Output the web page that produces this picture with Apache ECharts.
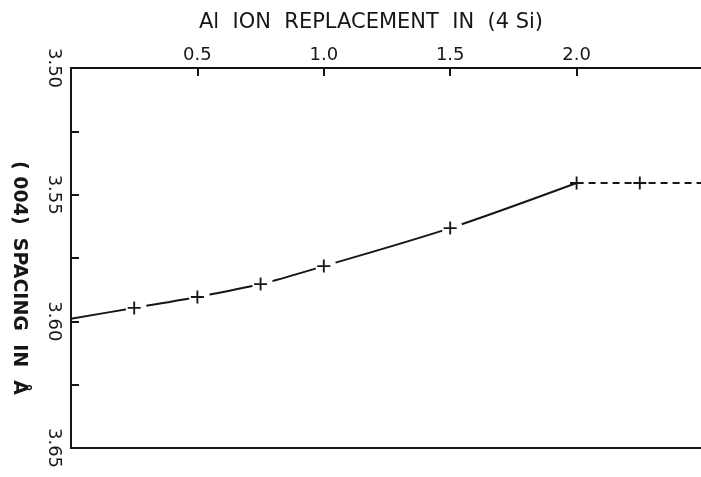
<!DOCTYPE html>
<html><head><meta charset="utf-8">
<script src="https://cdn.jsdelivr.net/npm/echarts@6/dist/echarts.min.js"></script>
<style>html,body{margin:0;padding:0;background:#fff}#c{width:701px;height:477px}</style>
</head><body><div id="c"></div>
<script>
// Data
var xSolid = [0, 0.25, 0.5, 0.75, 1.0, 1.5, 2.0];
var ySolid = [3.599, 3.5947, 3.5904, 3.5853, 3.5782, 3.5632, 3.5454];
var xDashed = [2.0, 2.25, 2.5];
var yDashed = [3.5454, 3.5454, 3.5454];
var xMarks = [0.25, 0.5, 0.75, 1.0, 1.5, 2.0, 2.25];
var yMarks = [3.5947, 3.5904, 3.5853, 3.5782, 3.5632, 3.5454, 3.5454];
var xTickLabels = ['0.5', '1.0', '1.5', '2.0'];
var yTickLabels = ['3.50', '3.55', '3.60', '3.65'];
var xTitle = 'Al  ION  REPLACEMENT  IN  (4 Si)';
var yTitle = '( 004)  SPACING  IN  Å';

var INK = '#161616';
var FONT = 'DejaVu Sans';
var plus = 'path://M6,0H8V6H14V8H8V14H6V8H0V6H6Z';

// solid curve: white gap discs around the marked points (not at the ends)
var solidData = xSolid.map(function (x, i) {
  var gap = x > 0.1 && x < 1.9;
  return { value: [x, ySolid[i]], symbol: gap ? 'circle' : 'none' };
});
var markData = xMarks.map(function (x, i) { return [x, yMarks[i]]; });
var dashedData = xDashed.map(function (x, i) { return [x, yDashed[i]]; });

var chart = echarts.init(document.getElementById('c'), null, { renderer: 'canvas' });
chart.setOption({
  animation: false,
  backgroundColor: '#fff',
  title: {
    text: xTitle, left: 366, top: 7, textAlign: 'center',
    textStyle: { fontFamily: FONT, fontSize: 21, fontWeight: 'normal', color: INK }
  },
  graphic: [{
    type: 'text', x: 19, y: 278, rotation: -Math.PI / 2, silent: true,
    style: { text: yTitle, font: 'bold 19px "DejaVu Sans"', fill: INK,
             textAlign: 'center', textVerticalAlign: 'middle' }
  }],
  grid: { left: 71, top: 68, width: 632, height: 380, show: true, borderColor: INK, borderWidth: 2,
          outerBoundsMode: 'none', containLabel: false },
  xAxis: {
    type: 'value', position: 'top', min: 0, max: 2.5, interval: 0.5,
    axisLine: { lineStyle: { color: INK, width: 2 } },
    axisTick: { inside: true, length: 8, lineStyle: { color: INK, width: 2 } },
    splitLine: { show: false },
    axisLabel: {
      margin: 4, color: INK, fontFamily: FONT, fontSize: 18,
      formatter: function (v) {
        var s = v.toFixed(1);
        return xTickLabels.indexOf(s) >= 0 ? s : '';
      }
    }
  },
  yAxis: {
    type: 'value', inverse: true, min: 3.5, max: 3.65, interval: 0.025,
    axisLine: { lineStyle: { color: INK, width: 2 } },
    axisTick: { inside: true, length: 8, lineStyle: { color: INK, width: 2 } },
    splitLine: { show: false },
    axisLabel: {
      rotate: -90, margin: 8, color: INK, fontFamily: FONT, fontSize: 18,
      formatter: function (v) {
        var s = v.toFixed(2);
        return (yTickLabels.indexOf(s) >= 0 && Math.abs(v * 20 - Math.round(v * 20)) < 1e-6) ? s : '';
      }
    }
  },
  series: [
    { type: 'line', data: solidData, smooth: 0.3, showSymbol: true, symbolSize: 21, symbolOffset: [2, 0],
      itemStyle: { color: '#ffffff', borderWidth: 0, opacity: 1 },
      lineStyle: { color: INK, width: 2 }, z: 2, silent: true },
    { type: 'line', data: dashedData, showSymbol: false, symbol: 'none',
      lineStyle: { color: INK, width: 2, type: [7, 5] }, z: 2, silent: true },
    { type: 'scatter', data: markData, symbol: plus, symbolSize: 13,
      itemStyle: { color: INK, opacity: 1 }, z: 11, silent: true }
  ]
});
</script></body></html>
